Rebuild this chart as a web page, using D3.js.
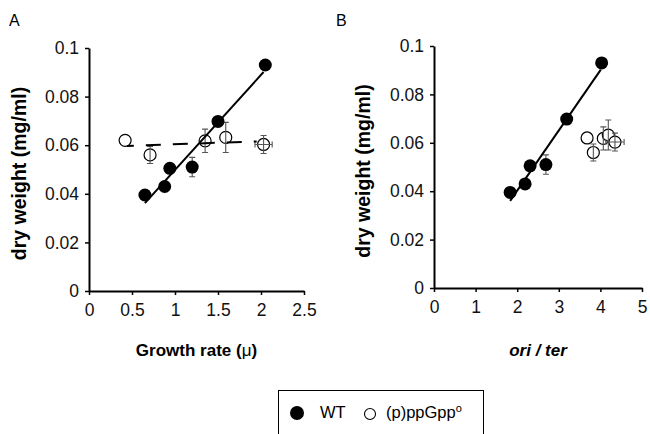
<!DOCTYPE html>
<html>
<head>
<meta charset="utf-8">
<script src="https://cdn.jsdelivr.net/npm/d3@7"></script>
<style>
  body { margin: 0; background: #fff; }
  svg { display: block; font-family: "Liberation Sans", Arial, sans-serif; }
</style>
</head>
<body>
<div id="viz"></div>
<script>
// dry weight (mg/ml), shared by both panels
const wtWeight = [0.0395, 0.043, 0.0505, 0.051, 0.0698, 0.093];
const wtErr    = [0, 0, 0, 0.004, 0, 0];
const ppWeight = [0.062, 0.0560, 0.0618, 0.0632, 0.0603];
const ppErr    = [0, 0.0035, 0.0048, 0.0062, 0.0037];

// panel A: growth rate (mu)
const wtGrowth = [0.65, 0.88, 0.94, 1.2, 1.5, 2.05];
const ppGrowth = [0.42, 0.71, 1.35, 1.59, 2.03];
const ppGrowthErr = [0, 0, 0, 0, 0.1];

// panel B: ori / ter
const wtOriTer = [1.83, 2.19, 2.31, 2.69, 3.19, 4.03];
const ppOriTer = [3.68, 3.83, 4.07, 4.19, 4.35];
const ppOriTerErr = [0, 0, 0, 0, 0.22];

const yTicks = [0, 0.02, 0.04, 0.06, 0.08, 0.1];
const xTicksA = [0, 0.5, 1, 1.5, 2, 2.5];
const xTicksB = [0, 1, 2, 3, 4, 5];

const svg = d3.select("#viz").append("svg")
    .attr("width", 650)
    .attr("height", 434);

function fit(xs, ys) {
    const mx = d3.mean(xs), my = d3.mean(ys);
    const sxy = d3.sum(xs, (x, i) => (x - mx) * (ys[i] - my));
    const sxx = d3.sum(xs, x => (x - mx) * (x - mx));
    const b = sxy / sxx;
    return x => my + b * (x - mx);
}

function panel(opt) {
    const x = d3.scaleLinear().domain(opt.xDomain).range([opt.left, opt.right]);
    const y = d3.scaleLinear().domain([0, 0.1]).range([opt.bottom, opt.top]);

    // axes
    const yAxis = svg.append("g")
        .attr("transform", `translate(${opt.left},0)`)
        .call(d3.axisLeft(y).tickValues(yTicks).tickFormat(d => d === 0 ? "0" : String(+d.toFixed(2)))
            .tickSizeInner(4).tickSizeOuter(0).tickPadding(6));
    const xAxis = svg.append("g")
        .attr("transform", `translate(0,${opt.bottom})`)
        .call(d3.axisBottom(x).tickValues(opt.xTicks).tickFormat(d => String(d))
            .tickSizeInner(4).tickSizeOuter(0).tickPadding(9));
    [yAxis, xAxis].forEach(a => {
        a.select(".domain").attr("stroke", "#000").attr("stroke-width", 2);
        a.selectAll(".tick line").attr("stroke", "#000").attr("stroke-width", 1.5);
        a.selectAll(".tick text").attr("font-size", 17.5).attr("fill", "#111")
            .attr("font-family", "'Liberation Sans', Arial, sans-serif");
    });

    // titles
    svg.append("text")
        .attr("x", opt.labelX).attr("y", 26)
        .attr("font-size", 16).text(opt.label);
    svg.append("text")
        .attr("transform", `translate(${opt.yTitleX},${(opt.top + opt.bottom) / 2 + 4}) rotate(-90)`)
        .attr("text-anchor", "middle")
        .attr("font-size", 19.5).attr("font-weight", "bold")
        .text("dry weight (mg/ml)");
    const xt = svg.append("text")
        .attr("x", (opt.left + opt.right) / 2)
        .attr("y", 356)
        .attr("text-anchor", "middle")
        .attr("font-size", 17).attr("font-weight", "bold");
    if (opt.italic) {
        xt.attr("font-style", "italic").text(opt.xTitle);
    } else {
        xt.text("Growth rate (");
        xt.append("tspan").attr("font-weight", "normal").text("\u03bc");
        xt.append("tspan").text(")");
    }

    const pp = opt.ppX.map((v, i) => ({x: v, y: ppWeight[i], ey: ppErr[i], ex: opt.ppXErr[i]}));
    const wt = opt.wtX.map((v, i) => ({x: v, y: wtWeight[i], ey: wtErr[i]}));

    // open markers
    svg.append("g").selectAll("circle")
        .data(pp).enter().append("circle")
            .attr("cx", d => x(d.x)).attr("cy", d => y(d.y)).attr("r", 6)
            .attr("fill", "#fff").attr("stroke", "#000").attr("stroke-width", 1.2);

    // error bars
    const eb = svg.append("g").attr("stroke", "#555").attr("stroke-width", 1.1).attr("fill", "none");
    pp.concat(wt).filter(d => d.ey > 0).forEach(d => {
        const cx = x(d.x), y0 = y(d.y - d.ey), y1 = y(d.y + d.ey);
        eb.append("path").attr("d", `M${cx},${y0}V${y1}M${cx - 3},${y0}H${cx + 3}M${cx - 3},${y1}H${cx + 3}`);
    });
    pp.filter(d => d.ex > 0).forEach(d => {
        const cy = y(d.y), x0 = x(d.x - d.ex), x1 = x(d.x + d.ex);
        eb.append("path").attr("d", `M${x0},${cy}H${x1}M${x0},${cy - 3}V${cy + 3}M${x1},${cy - 3}V${cy + 3}`);
    });

    // filled markers
    svg.append("g").selectAll("circle")
        .data(wt).enter().append("circle")
            .attr("cx", d => x(d.x)).attr("cy", d => y(d.y)).attr("r", 6.5)
            .attr("fill", "#000");

    // trend lines
    const fw = fit(opt.wtX, wtWeight);
    const wx = d3.extent(opt.wtX);
    svg.append("line")
        .attr("x1", x(wx[0])).attr("y1", y(fw(wx[0])))
        .attr("x2", x(wx[1] - 0.02)).attr("y2", y(fw(wx[1] - 0.02)))
        .attr("stroke", "#000").attr("stroke-width", 2);
    if (opt.ppTrend) {
        const fp = fit(opt.ppX, ppWeight);
        const px = [opt.ppX[0] + 0.02, 1.95];
        svg.append("line")
            .attr("x1", x(px[0])).attr("y1", y(fp(px[0])))
            .attr("x2", x(px[1])).attr("y2", y(fp(px[1])))
            .attr("stroke", "#000").attr("stroke-width", 2)
            .attr("stroke-dasharray", "15,12").attr("stroke-dashoffset", 8);
    }
}

panel({
    label: "A", labelX: 9, yTitleX: 26,
    left: 89, right: 304, top: 48, bottom: 291,
    xDomain: [0, 2.5], xTicks: xTicksA,
    wtX: wtGrowth, ppX: ppGrowth, ppXErr: ppGrowthErr, ppTrend: true
});
panel({
    label: "B", labelX: 336, yTitleX: 370,
    left: 434, right: 642, top: 46, bottom: 288,
    xDomain: [0, 5], xTicks: xTicksB, italic: true, xTitle: "ori / ter",
    wtX: wtOriTer, ppX: ppOriTer, ppXErr: ppOriTerErr, ppTrend: false
});

// legend
const legend = svg.append("g");
legend.append("rect")
    .attr("x", 278.5).attr("y", 390.5).attr("width", 205).attr("height", 60)
    .attr("fill", "#fff").attr("stroke", "#000").attr("stroke-width", 1);
legend.append("circle").attr("cx", 297).attr("cy", 413).attr("r", 7).attr("fill", "#000");
legend.append("text").attr("x", 320).attr("y", 418).attr("font-size", 16.5).text("WT");
legend.append("circle").attr("cx", 370).attr("cy", 414).attr("r", 5.5)
    .attr("fill", "#fff").attr("stroke", "#000").attr("stroke-width", 1.1);
const lt = legend.append("text").attr("x", 386).attr("y", 418).attr("font-size", 16.5).text("(p)ppGpp");
lt.append("tspan").attr("font-size", 11).attr("dy", -6).text("o");
</script>
</body>
</html>
